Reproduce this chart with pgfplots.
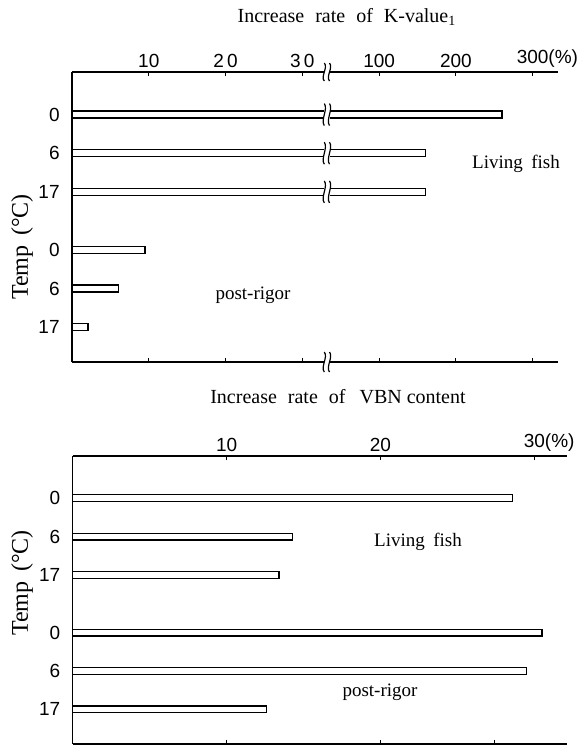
\documentclass[border=0pt]{standalone}
\usepackage{fontspec}
\setmainfont{Liberation Serif}
\newfontfamily\tickfont{Liberation Sans}
\usepackage{pgfplots}
\pgfplotsset{compat=1.18}

% break mark: rel x, rel y, half height
\newcommand{\brk}[3]{%
  \fill[white] ([xshift=-1.3pt,yshift=-#3]rel axis cs:#1,#2) rectangle ([xshift=1.3pt,yshift=#3]rel axis cs:#1,#2);
  \draw[line width=0.6pt] ([xshift=-1.3pt,yshift=-#3]rel axis cs:#1,#2) .. controls +(-2pt,0.5*#3) and +(2pt,-0.5*#3) .. ([xshift=-1.3pt,yshift=#3]rel axis cs:#1,#2);
  \draw[line width=0.6pt] ([xshift=1.3pt,yshift=-#3]rel axis cs:#1,#2) .. controls +(-2pt,0.5*#3) and +(2pt,-0.5*#3) .. ([xshift=1.3pt,yshift=#3]rel axis cs:#1,#2);
}

\pgfplotsset{
  panel/.style={
    scale only axis, xbar, clip=false,
    axis y line*=left,
    ymin=0, ymax=7.5,
    ytick={0.9,1.9,2.9,4.4,5.4,6.4},
    yticklabels={17,6,0,17,6,0},
    ytick style={draw=none},
    tick align=inside, major tick length=2pt,
    xticklabel pos=right,
    tick label style={font=\tickfont\fontsize{9.5}{11}\selectfont},
    yticklabel style={inner sep=0pt, xshift=-6pt},
    xticklabel style={inner sep=0pt, yshift=2pt},
    axis line style={line width=0.7pt},
    every tick/.style={line width=0.6pt, black},
  },
  bars/.style={draw=black, fill=white, line width=0.65pt, bar width=3.4pt, bar shift=0pt},
}

\begin{document}
\begin{tikzpicture}
\useasboundingbox (0pt,0pt) rectangle (290.5pt,-373pt);

% ---- K-value panel (broken scale: 0-30 linear, then 100/200/300)
\begin{axis}[panel,
  at={(36pt,-36pt)}, anchor=north west,
  width=243pt, height=145pt,
  x coord trafo/.code={\pgfmathparse{#1<=30 ? #1/10 : (#1<=100 ? 3+(#1-30)/70 : 3+#1/100)}},
  xmin=0, xmax=333,
  xtick={10,20,30,100,200,300},
  xticklabels={10,2\,0,3\,0,100,200,300\rlap{(\%)}},
]
\addplot[bars] coordinates {(260,6.4) (160,5.4) (160,4.4)};
\addplot[bars] coordinates {(9.5,2.9) (6.1,1.9) (2.1,0.9)};
\brk{0.5245}{1}{4.5pt}
\brk{0.5245}{0.8533}{5.5pt}
\brk{0.5245}{0.72}{5.5pt}
\brk{0.5245}{0.5867}{5.5pt}
\brk{0.5245}{0}{5pt}
\end{axis}

% ---- VBN panel
\begin{axis}[panel,
  at={(36.35pt,-228pt)}, anchor=north west,
  width=247pt, height=144pt,
  xmin=0, xmax=32.1,
  xtick pos=right,
  xtick={10,20,30},
  xticklabels={10,20,30\rlap{(\%)}},
]
\addplot[bars] coordinates {(28.6,6.4) (14.3,5.4) (13.4,4.4)};
\addplot[bars] coordinates {(30.5,2.9) (29.5,1.9) (12.6,0.9)};
\draw[line width=0.6pt] (axis cs:10,0) -- ++(0,2pt);
\draw[line width=0.6pt] (axis cs:20,0) -- ++(0,2pt);
\draw[line width=0.6pt] (axis cs:27.4,0) -- ++(0,2pt);
\end{axis}

\node[font=\fontsize{10}{12}\selectfont] at (173.5pt,-8.5pt) {Increase\hspace{0.55em}rate\hspace{0.55em}of\hspace{0.55em}K-value\textsubscript{1}};
\node[font=\fontsize{9.5}{11}\selectfont] at (258pt,-82pt) {Living\hspace{0.45em}fish};
\node[font=\fontsize{9.5}{11}\selectfont] at (126.5pt,-147.5pt) {post-rigor};
\node[font=\fontsize{12}{14}\selectfont, rotate=90] at (11pt,-123.5pt) {Temp\hspace{0.4em}(°C)};

\node[font=\fontsize{10}{12}\selectfont] at (169pt,-198.5pt) {Increase\hspace{0.55em}rate\hspace{0.55em}of\hspace{0.7em}VBN content};
\node[font=\fontsize{9.5}{11}\selectfont] at (209pt,-271pt) {Living\hspace{0.45em}fish};
\node[font=\fontsize{9.5}{11}\selectfont] at (190pt,-346pt) {post-rigor};
\node[font=\fontsize{12}{14}\selectfont, rotate=90] at (11pt,-291.5pt) {Temp\hspace{0.4em}(°C)};
\end{tikzpicture}
\end{document}
